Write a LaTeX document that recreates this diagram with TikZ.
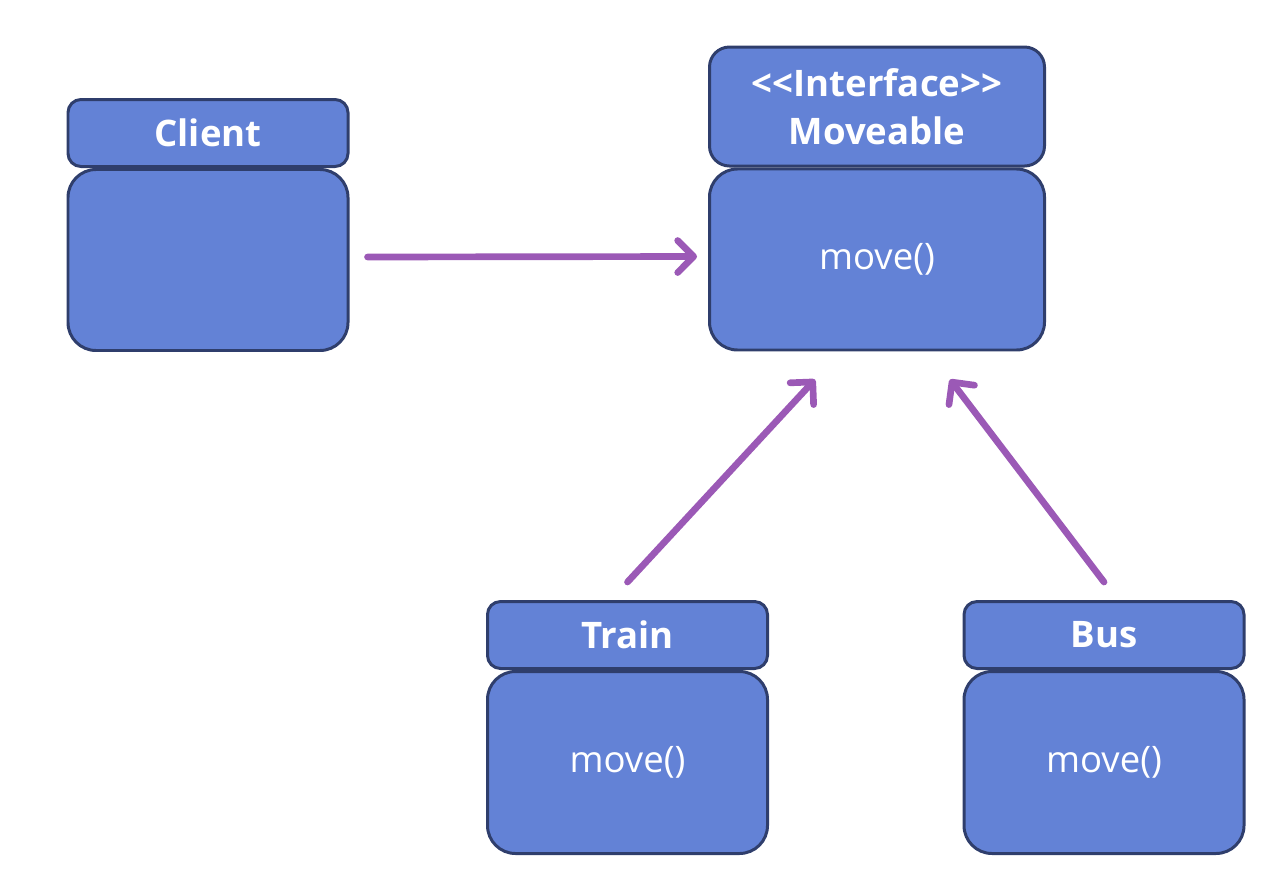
\documentclass[tikz,border=0pt]{standalone}
\usepackage{fontspec}
\setmainfont{Open Sans}
\usetikzlibrary{positioning}
\usetikzlibrary{arrows.meta}
\definecolor{boxfill}{RGB}{99,130,214}
\definecolor{boxline}{RGB}{47,62,108}
\definecolor{arrowpurple}{RGB}{155,89,182}
\tikzset{
  head/.style={draw=boxline,fill=boxfill,line width=0.85pt,rounded corners=0.13cm,
    text=white,font=\fontsize{10.4}{13.6}\selectfont\bfseries,align=center,
    minimum width=2.8cm,minimum height=0.67cm,inner sep=0pt},
  body/.style={draw=boxline,fill=boxfill,line width=0.85pt,rounded corners=0.28cm,
    text=white,font=\fontsize{10.4}{13.6}\selectfont,
    minimum width=2.8cm,minimum height=1.81cm,inner sep=0pt},
  arr/.style={draw=arrowpurple,line width=1.9pt,line cap=round,
    -{Straight Barb[length=0.16cm,width=0.32cm,round]}}
}
\begin{document}
\begin{tikzpicture}
  \useasboundingbox (0,0) rectangle (12.88,-8.94);
  % classes
  \node[head] (clienthead) at (2.08,-1.33) {Client};
  \node[body,below=0pt of clienthead] (clientbody) {};
  \node[head,minimum width=3.35cm,minimum height=1.19cm,rounded corners=0.2cm] (movehead) at (8.77,-1.065)
    {{<}{<}Interface{>}{>}\\Moveable};
  \node[body,minimum width=3.35cm,below=0pt of movehead] (movebody) {move()};
  \node[head] (trainhead) at (6.275,-6.35) {Train};
  \node[body,minimum height=1.82cm,below=0pt of trainhead] (trainbody) {move()};
  \node[head] (bushead) at (11.04,-6.35) {Bus};
  \node[body,minimum height=1.82cm,below=0pt of bushead] (busbody) {move()};
  % arrow ends
  \coordinate (clientTail) at ([shift={(0.18,0.03)}]clientbody.east);
  \coordinate (clientTip)  at ([shift={(-0.11,0.03)}]movebody.west);
  \coordinate (trainTail)  at ([yshift=0.18cm]trainhead.north);
  \coordinate (trainTip)   at ([shift={(-0.62,-0.28)}]movebody.south);
  \coordinate (busTail)    at ([yshift=0.18cm]bushead.north);
  \coordinate (busTip)     at ([shift={(0.73,-0.28)}]movebody.south);
  \draw[arr] (clientTail) -- (clientTip);
  \draw[arr] (trainTail) -- (trainTip);
  \draw[arr] (busTail) -- (busTip);
\end{tikzpicture}
\end{document}
